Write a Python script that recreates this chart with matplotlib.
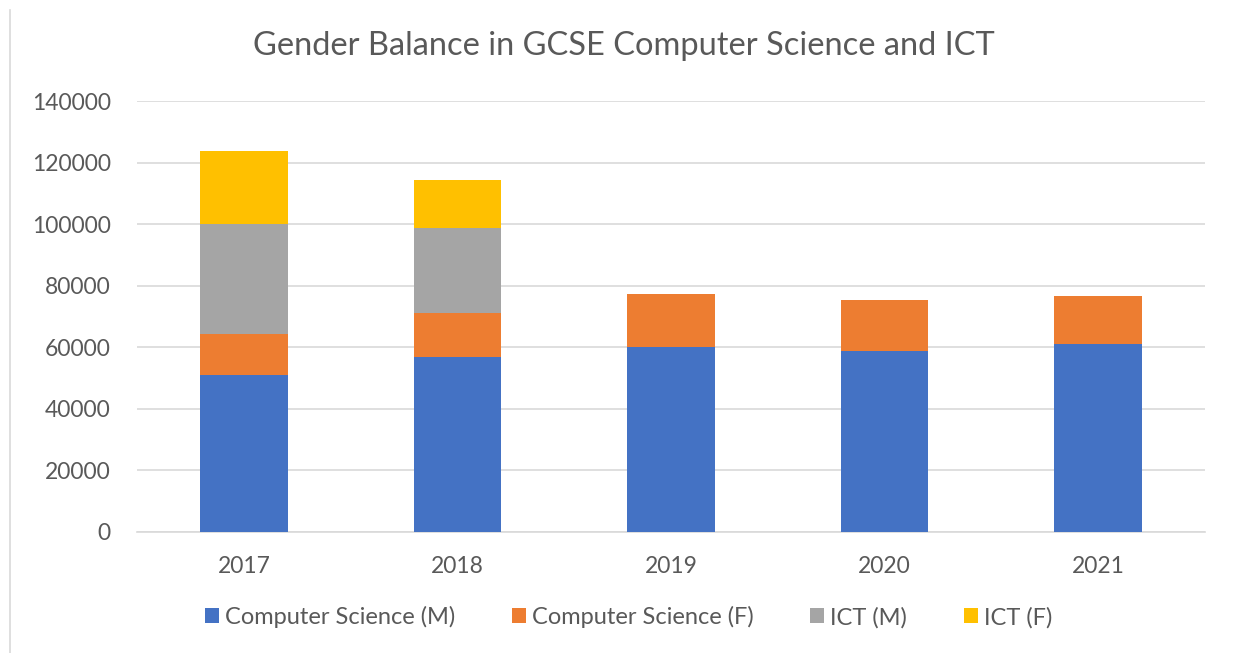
import matplotlib.pyplot as plt
from matplotlib.lines import Line2D
import numpy as np

years = ["2017", "2018", "2019", "2020", "2021"]
cs_male = [51100, 56900, 60200, 58900, 61000]
cs_female = [13100, 14400, 17000, 16350, 15600]
ict_male = [36000, 27600, 0, 0, 0]
ict_female = [23600, 15600, 0, 0, 0]

series = [
    ("Computer Science (M)", cs_male, "#4472C4"),
    ("Computer Science (F)", cs_female, "#ED7D31"),
    ("ICT (M)", ict_male, "#A5A5A5"),
    ("ICT (F)", ict_female, "#FFC000"),
]

plt.rcParams['font.family'] = ['Lato', 'DejaVu Sans']

fig = plt.figure(figsize=(12.37, 6.53), dpi=100)
ax = fig.add_axes([0.111, 0.1853, 0.863, 0.6600])

x = np.arange(len(years))
bottom = np.zeros(len(years))
for name, vals, color in series:
    vals = np.array(vals, dtype=float)
    ax.bar(x, vals, width=0.41, bottom=bottom, color=color, label=name, zorder=3)
    bottom += vals

ax.set_xlim(-0.5, len(years) - 0.5)
ax.set_ylim(0, 140000)
ax.set_yticks(np.arange(0, 140001, 20000))
ax.set_yticklabels([str(v) for v in range(0, 140001, 20000)])
ax.set_xticks(x)
ax.set_xticklabels(years)
ax.tick_params(axis='both', length=0, labelsize=16.5, colors='#595959')
ax.tick_params(axis='y', pad=19)
ax.tick_params(axis='x', pad=17)
ax.grid(axis='y', color='#D9D9D9', linewidth=1.2, zorder=0)
for side in ['top', 'right', 'left']:
    ax.spines[side].set_visible(False)
ax.spines['bottom'].set_color('#D9D9D9')
ax.spines['bottom'].set_linewidth(1.2)

fig.suptitle("Gender Balance in GCSE Computer Science and ICT", x=0.504, y=0.952,
             fontsize=23.5, color='#595959')

handles, labels = ax.get_legend_handles_labels()
fig.legend(handles, labels, loc='center', bbox_to_anchor=(0.508, 0.055), ncol=4,
           frameon=False, fontsize=17, labelcolor='#595959', handlelength=0.6,
           handleheight=0.6, handletextpad=0.25, columnspacing=2.4)

# thin chart frame line on the left
fig.add_artist(Line2D([0.008, 0.008], [0.0, 0.985], color='#D9D9D9', linewidth=1.2))

fig.savefig("out.png", dpi=100)
